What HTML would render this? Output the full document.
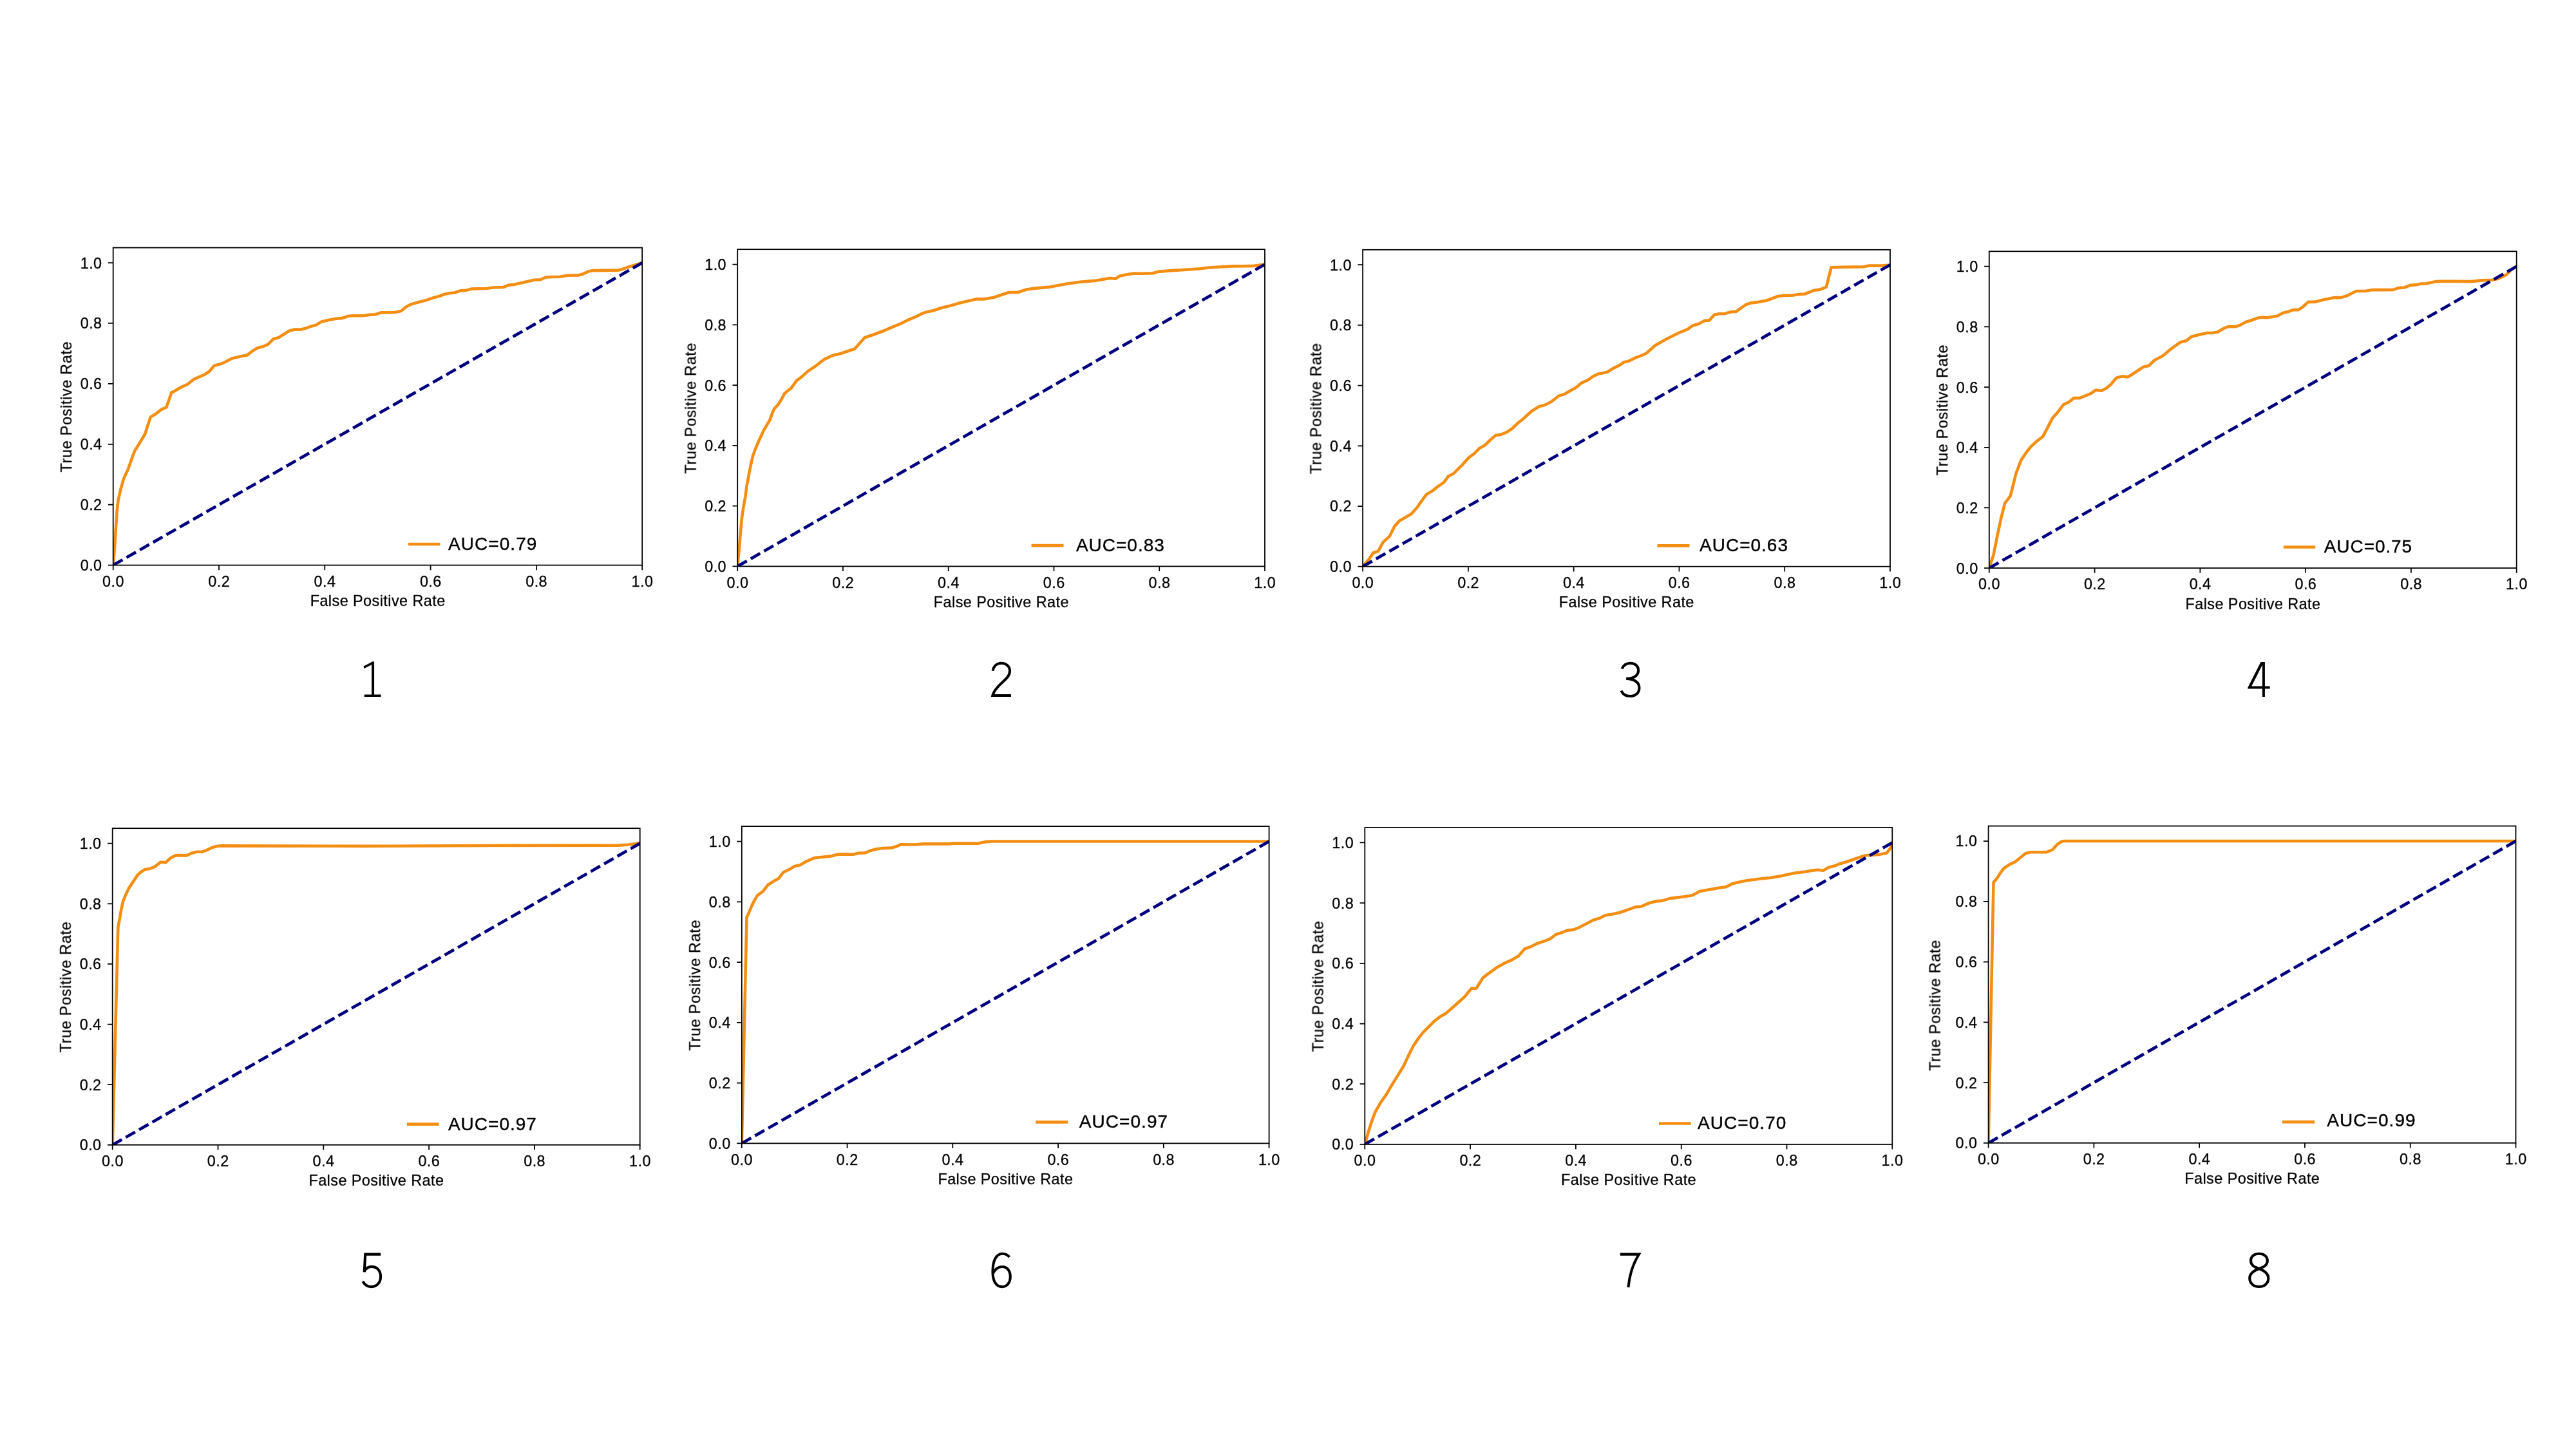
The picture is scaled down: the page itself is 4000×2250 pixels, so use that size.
<!DOCTYPE html>
<html><head><meta charset="utf-8"><title>ROC curves</title>
<style>html,body{margin:0;padding:0;background:#fff;}body{width:4000px;height:2250px;overflow:hidden;font-family:"Liberation Sans",sans-serif;}svg{display:block;}</style></head>
<body>
<svg width="4000" height="2250" viewBox="0 0 4000 2250">
<rect width="4000" height="2250" fill="#fff"/>
<g id="p1">
<clipPath id="c1"><rect x="175.70" y="384.60" width="821.50" height="493.00"/></clipPath>
<g clip-path="url(#c1)" fill="none">
<path d="M175.8 877.6 L177.8 852.3 L179.7 823.2 L181.6 794.1 L183.6 776.6 L187.5 759.2 L192.3 742.7 L199.1 728.1 L204.9 711.6 L208.8 700.9 L216.6 688.3 L225.3 673.8 L230.2 658.2 L233.7 647.6 L241.8 642.7 L250.6 635.9 L258.3 632.4 L262.2 621.4 L266.5 609.1 L267.1 609.6 L283.0 600.3 L290.8 597.0 L300.5 589.2 L317.9 581.5 L324.7 577.0 L332.5 567.9 L343.2 565.0 L350.9 561.5 L359.7 556.8 L374.2 553.3 L383.9 551.4 L391.7 545.2 L400.4 540.1 L408.2 538.2 L416.0 534.9 L424.7 526.2 L432.5 524.2 L441.2 518.8 L449.9 513.5 L457.7 511.6 L467.4 511.6 L475.2 509.7 L483.9 506.4 L490.7 504.8 L499.4 499.4 L510.1 497.0 L521.7 494.7 L531.4 494.1 L541.1 490.8 L548.9 490.3 L563.5 490.3 L573.2 488.9 L582.9 488.3 L591.6 485.4 L613.0 485.0 L622.7 483.1 L630.9 476.3 L638.6 472.4 L648.0 469.8 L660.4 466.6 L672.8 462.3 L682.1 460.0 L689.9 456.9 L697.6 455.3 L706.2 454.5 L714.7 451.4 L724.0 450.7 L731.8 448.6 L742.7 448.3 L755.1 448.0 L766.0 446.5 L781.5 446.0 L789.3 442.9 L798.6 441.8 L814.1 438.2 L828.9 434.7 L838.9 434.3 L847.5 430.5 L857.6 430.0 L870.0 429.7 L880.9 427.8 L898.0 427.4 L904.2 425.8 L913.5 421.6 L921.2 420.1 L960.1 419.6 L963.9 418.8 L977.1 414.2 L997.6 408.0" stroke="#f38e12" stroke-width="4.6" stroke-linejoin="round" stroke-linecap="square"/>
<path d="M175.70 877.60 L997.20 408.08" stroke="#00007f" stroke-width="4.7" stroke-dasharray="16.853 6.982"/>
</g>
<rect x="175.70" y="384.60" width="821.50" height="493.00" fill="none" stroke="#000" stroke-width="1.8"/>
<path d="M175.70 877.60 v7.7 M175.70 877.60 h-7.7 M340.00 877.60 v7.7 M175.70 783.70 h-7.7 M504.30 877.60 v7.7 M175.70 689.79 h-7.7 M668.60 877.60 v7.7 M175.70 595.89 h-7.7 M832.90 877.60 v7.7 M175.70 501.98 h-7.7 M997.20 877.60 v7.7 M175.70 408.08 h-7.7" stroke="#000" stroke-width="1.75" fill="none"/>
<g font-family="Liberation Sans, sans-serif" font-size="23.4" fill="#000" stroke="#000" stroke-width="0.3" opacity="0.999">
<text x="175.70" y="910.70" text-anchor="middle" textLength="33.4" lengthAdjust="spacing">0.0</text>
<text x="158.10" y="886.05" text-anchor="end" textLength="33.4" lengthAdjust="spacing">0.0</text>
<text x="340.00" y="910.70" text-anchor="middle" textLength="33.4" lengthAdjust="spacing">0.2</text>
<text x="158.10" y="792.15" text-anchor="end" textLength="33.4" lengthAdjust="spacing">0.2</text>
<text x="504.30" y="910.70" text-anchor="middle" textLength="33.4" lengthAdjust="spacing">0.4</text>
<text x="158.10" y="698.24" text-anchor="end" textLength="33.4" lengthAdjust="spacing">0.4</text>
<text x="668.60" y="910.70" text-anchor="middle" textLength="33.4" lengthAdjust="spacing">0.6</text>
<text x="158.10" y="604.34" text-anchor="end" textLength="33.4" lengthAdjust="spacing">0.6</text>
<text x="832.90" y="910.70" text-anchor="middle" textLength="33.4" lengthAdjust="spacing">0.8</text>
<text x="158.10" y="510.43" text-anchor="end" textLength="33.4" lengthAdjust="spacing">0.8</text>
<text x="997.20" y="910.70" text-anchor="middle" textLength="33.4" lengthAdjust="spacing">1.0</text>
<text x="158.10" y="416.53" text-anchor="end" textLength="33.4" lengthAdjust="spacing">1.0</text>
<text font-size="23.4" x="586.45" y="941.10" text-anchor="middle" textLength="209.6" lengthAdjust="spacing">False Positive Rate</text>
<text font-size="23.4" transform="translate(111.10 631.90) rotate(-90)" text-anchor="middle" textLength="203" lengthAdjust="spacing">True Positive Rate</text>
</g>
<path d="M634.00 845.00 H683.50" stroke="#f38e12" stroke-width="4.7" fill="none"/>
<text font-family="Liberation Sans, sans-serif" font-size="28.0" stroke="#000" stroke-width="0.4" opacity="0.999" x="695.90" y="853.80" textLength="137.5" lengthAdjust="spacing">AUC=0.79</text>
</g>
<g id="p2">
<clipPath id="c2"><rect x="1145.20" y="387.20" width="818.80" height="492.20"/></clipPath>
<g clip-path="url(#c2)" fill="none">
<path d="M1145.2 879.1 L1147.8 852.3 L1149.7 829.0 L1152.0 803.8 L1154.6 786.3 L1157.5 770.8 L1159.4 755.3 L1162.3 739.8 L1166.2 720.3 L1169.1 707.7 L1173.0 697.0 L1178.8 683.5 L1185.6 668.9 L1195.3 652.4 L1199.2 641.7 L1202.1 634.9 L1207.9 628.7 L1213.8 619.4 L1218.6 610.7 L1225.4 604.9 L1228.1 603.4 L1236.9 591.2 L1244.6 585.4 L1254.3 576.6 L1267.9 567.3 L1279.6 558.2 L1293.2 551.8 L1302.9 549.8 L1316.5 545.2 L1327.1 541.7 L1342.7 524.2 L1355.3 520.0 L1372.7 513.5 L1384.4 508.3 L1398.0 502.9 L1409.6 497.0 L1421.3 492.2 L1432.9 486.4 L1440.7 483.9 L1448.4 482.5 L1462.0 478.0 L1475.6 474.7 L1489.2 470.8 L1502.8 467.5 L1516.4 464.4 L1528.0 464.4 L1543.6 461.7 L1555.2 457.8 L1566.8 454.0 L1580.4 454.0 L1594.0 449.5 L1607.6 447.6 L1630.9 445.6 L1656.1 440.8 L1677.5 437.8 L1700.0 435.9 L1714.2 433.6 L1723.5 432.0 L1732.1 432.8 L1739.1 428.4 L1748.4 426.6 L1759.3 424.7 L1773.2 424.7 L1790.3 424.3 L1798.1 421.9 L1819.8 420.1 L1846.2 418.5 L1863.3 417.3 L1872.6 416.0 L1892.8 414.5 L1913.0 413.4 L1931.6 413.2 L1947.1 412.9 L1963.9 410.7" stroke="#f38e12" stroke-width="4.6" stroke-linejoin="round" stroke-linecap="square"/>
<path d="M1145.20 879.40 L1964.00 410.64" stroke="#00007f" stroke-width="4.7" stroke-dasharray="16.798 6.959"/>
</g>
<rect x="1145.20" y="387.20" width="818.80" height="492.20" fill="none" stroke="#000" stroke-width="1.8"/>
<path d="M1145.20 879.40 v7.7 M1145.20 879.40 h-7.7 M1308.96 879.40 v7.7 M1145.20 785.65 h-7.7 M1472.72 879.40 v7.7 M1145.20 691.90 h-7.7 M1636.48 879.40 v7.7 M1145.20 598.14 h-7.7 M1800.24 879.40 v7.7 M1145.20 504.39 h-7.7 M1964.00 879.40 v7.7 M1145.20 410.64 h-7.7" stroke="#000" stroke-width="1.75" fill="none"/>
<g font-family="Liberation Sans, sans-serif" font-size="23.4" fill="#000" stroke="#000" stroke-width="0.3" opacity="0.999">
<text x="1145.20" y="912.50" text-anchor="middle" textLength="33.4" lengthAdjust="spacing">0.0</text>
<text x="1127.60" y="887.85" text-anchor="end" textLength="33.4" lengthAdjust="spacing">0.0</text>
<text x="1308.96" y="912.50" text-anchor="middle" textLength="33.4" lengthAdjust="spacing">0.2</text>
<text x="1127.60" y="794.10" text-anchor="end" textLength="33.4" lengthAdjust="spacing">0.2</text>
<text x="1472.72" y="912.50" text-anchor="middle" textLength="33.4" lengthAdjust="spacing">0.4</text>
<text x="1127.60" y="700.35" text-anchor="end" textLength="33.4" lengthAdjust="spacing">0.4</text>
<text x="1636.48" y="912.50" text-anchor="middle" textLength="33.4" lengthAdjust="spacing">0.6</text>
<text x="1127.60" y="606.59" text-anchor="end" textLength="33.4" lengthAdjust="spacing">0.6</text>
<text x="1800.24" y="912.50" text-anchor="middle" textLength="33.4" lengthAdjust="spacing">0.8</text>
<text x="1127.60" y="512.84" text-anchor="end" textLength="33.4" lengthAdjust="spacing">0.8</text>
<text x="1964.00" y="912.50" text-anchor="middle" textLength="33.4" lengthAdjust="spacing">1.0</text>
<text x="1127.60" y="419.09" text-anchor="end" textLength="33.4" lengthAdjust="spacing">1.0</text>
<text font-size="23.4" x="1554.60" y="942.90" text-anchor="middle" textLength="209.6" lengthAdjust="spacing">False Positive Rate</text>
<text font-size="23.4" transform="translate(1080.60 634.10) rotate(-90)" text-anchor="middle" textLength="203" lengthAdjust="spacing">True Positive Rate</text>
</g>
<path d="M1601.60 847.05 H1651.50" stroke="#f38e12" stroke-width="4.7" fill="none"/>
<text font-family="Liberation Sans, sans-serif" font-size="28.0" stroke="#000" stroke-width="0.4" opacity="0.999" x="1670.90" y="855.70" textLength="136.9" lengthAdjust="spacing">AUC=0.83</text>
</g>
<g id="p3">
<clipPath id="c3"><rect x="2116.10" y="387.80" width="818.90" height="491.90"/></clipPath>
<g clip-path="url(#c3)" fill="none">
<path d="M2116.0 879.5 L2125.5 868.8 L2132.3 858.5 L2140.1 855.8 L2147.8 841.7 L2157.6 832.9 L2165.3 817.4 L2173.1 808.7 L2181.8 803.8 L2191.5 798.0 L2200.3 788.3 L2207.0 778.6 L2214.8 767.9 L2224.5 762.1 L2234.2 754.3 L2242.0 749.1 L2248.8 739.8 L2257.5 734.9 L2271.1 721.3 L2280.8 710.6 L2288.6 704.8 L2297.3 696.1 L2306.0 691.2 L2314.8 682.5 L2322.5 676.1 L2331.3 674.7 L2340.0 670.8 L2348.7 665.0 L2356.5 657.3 L2366.2 649.5 L2377.9 638.8 L2389.5 631.4 L2399.2 628.7 L2408.9 623.7 L2420.6 614.6 L2429.3 612.0 L2440.0 605.8 L2447.7 601.6 L2455.4 594.8 L2465.2 590.4 L2473.9 584.3 L2481.5 580.7 L2495.7 577.8 L2505.4 571.7 L2514.1 567.6 L2521.7 562.2 L2528.3 561.1 L2539.1 555.7 L2550.0 551.7 L2556.5 548.5 L2570.7 536.1 L2589.1 525.7 L2606.5 517.0 L2620.7 511.1 L2628.3 505.7 L2638.0 502.8 L2646.7 498.0 L2654.3 497.4 L2662.0 488.7 L2669.6 487.2 L2678.3 487.0 L2688.0 484.3 L2695.7 483.9 L2710.9 473.0 L2719.6 470.2 L2730.4 469.1 L2743.5 466.5 L2760.9 460.0 L2769.6 458.9 L2782.6 458.7 L2791.3 457.2 L2802.2 456.5 L2817.4 450.7 L2826.1 449.6 L2835.9 445.7 L2843.5 415.2 L2860.9 414.8 L2893.5 414.3 L2902.2 412.6 L2921.7 412.6 L2935.2 411.5" stroke="#f38e12" stroke-width="4.6" stroke-linejoin="round" stroke-linecap="square"/>
<path d="M2116.10 879.70 L2935.00 411.22" stroke="#00007f" stroke-width="4.7" stroke-dasharray="16.800 6.960"/>
</g>
<rect x="2116.10" y="387.80" width="818.90" height="491.90" fill="none" stroke="#000" stroke-width="1.8"/>
<path d="M2116.10 879.70 v7.7 M2116.10 879.70 h-7.7 M2279.88 879.70 v7.7 M2116.10 786.00 h-7.7 M2443.66 879.70 v7.7 M2116.10 692.31 h-7.7 M2607.44 879.70 v7.7 M2116.10 598.61 h-7.7 M2771.22 879.70 v7.7 M2116.10 504.92 h-7.7 M2935.00 879.70 v7.7 M2116.10 411.22 h-7.7" stroke="#000" stroke-width="1.75" fill="none"/>
<g font-family="Liberation Sans, sans-serif" font-size="23.4" fill="#000" stroke="#000" stroke-width="0.3" opacity="0.999">
<text x="2116.10" y="912.80" text-anchor="middle" textLength="33.4" lengthAdjust="spacing">0.0</text>
<text x="2098.50" y="888.15" text-anchor="end" textLength="33.4" lengthAdjust="spacing">0.0</text>
<text x="2279.88" y="912.80" text-anchor="middle" textLength="33.4" lengthAdjust="spacing">0.2</text>
<text x="2098.50" y="794.45" text-anchor="end" textLength="33.4" lengthAdjust="spacing">0.2</text>
<text x="2443.66" y="912.80" text-anchor="middle" textLength="33.4" lengthAdjust="spacing">0.4</text>
<text x="2098.50" y="700.76" text-anchor="end" textLength="33.4" lengthAdjust="spacing">0.4</text>
<text x="2607.44" y="912.80" text-anchor="middle" textLength="33.4" lengthAdjust="spacing">0.6</text>
<text x="2098.50" y="607.06" text-anchor="end" textLength="33.4" lengthAdjust="spacing">0.6</text>
<text x="2771.22" y="912.80" text-anchor="middle" textLength="33.4" lengthAdjust="spacing">0.8</text>
<text x="2098.50" y="513.37" text-anchor="end" textLength="33.4" lengthAdjust="spacing">0.8</text>
<text x="2935.00" y="912.80" text-anchor="middle" textLength="33.4" lengthAdjust="spacing">1.0</text>
<text x="2098.50" y="419.67" text-anchor="end" textLength="33.4" lengthAdjust="spacing">1.0</text>
<text font-size="23.4" x="2525.55" y="943.20" text-anchor="middle" textLength="209.6" lengthAdjust="spacing">False Positive Rate</text>
<text font-size="23.4" transform="translate(2051.50 634.55) rotate(-90)" text-anchor="middle" textLength="203" lengthAdjust="spacing">True Positive Rate</text>
</g>
<path d="M2573.50 847.30 H2623.50" stroke="#f38e12" stroke-width="4.7" fill="none"/>
<text font-family="Liberation Sans, sans-serif" font-size="28.0" stroke="#000" stroke-width="0.4" opacity="0.999" x="2639.00" y="855.70" textLength="137.0" lengthAdjust="spacing">AUC=0.63</text>
</g>
<g id="p4">
<clipPath id="c4"><rect x="3088.80" y="390.30" width="818.90" height="491.80"/></clipPath>
<g clip-path="url(#c4)" fill="none">
<path d="M3088.8 882.1 L3095.6 861.2 L3101.4 832.0 L3107.2 804.9 L3113.1 781.6 L3121.8 769.9 L3125.7 754.4 L3130.5 735.0 L3138.3 714.6 L3146.1 703.0 L3153.8 693.3 L3163.5 684.5 L3172.3 677.7 L3179.0 665.1 L3186.8 649.6 L3194.6 640.8 L3204.3 628.2 L3212.0 624.7 L3220.2 618.1 L3229.5 618.1 L3247.0 610.8 L3254.3 605.7 L3263.1 606.7 L3270.8 602.8 L3277.6 597.0 L3286.4 586.7 L3295.1 584.4 L3303.8 585.4 L3310.6 581.5 L3328.1 569.8 L3336.8 567.9 L3345.6 559.2 L3355.3 554.3 L3361.1 550.4 L3368.9 543.6 L3376.6 537.8 L3385.4 531.6 L3395.1 529.1 L3402.8 522.7 L3413.5 520.0 L3427.1 517.0 L3435.8 517.0 L3443.6 515.5 L3452.3 510.2 L3460.1 507.1 L3471.7 507.1 L3477.6 505.2 L3487.3 500.0 L3497.0 497.0 L3504.7 494.1 L3512.5 492.8 L3520.3 493.2 L3535.8 490.8 L3545.5 485.8 L3553.3 483.9 L3561.0 481.1 L3568.8 481.1 L3575.6 476.7 L3584.3 468.9 L3594.0 468.9 L3607.6 465.6 L3625.1 462.1 L3634.8 462.1 L3644.5 459.2 L3652.3 455.3 L3659.0 452.0 L3673.6 452.0 L3683.3 450.1 L3700.0 450.1 L3716.3 449.9 L3724.1 447.1 L3733.4 446.5 L3742.7 442.9 L3750.5 442.4 L3759.8 440.6 L3767.6 440.2 L3783.1 437.1 L3790.9 436.7 L3839.0 437.1 L3849.9 435.6 L3860.7 435.1 L3870.1 434.7 L3879.4 432.8 L3891.8 426.6 L3899.6 418.8 L3908.1 412.9" stroke="#f38e12" stroke-width="4.6" stroke-linejoin="round" stroke-linecap="square"/>
<path d="M3088.80 882.10 L3907.70 413.72" stroke="#00007f" stroke-width="4.7" stroke-dasharray="16.800 6.960"/>
</g>
<rect x="3088.80" y="390.30" width="818.90" height="491.80" fill="none" stroke="#000" stroke-width="1.8"/>
<path d="M3088.80 882.10 v7.7 M3088.80 882.10 h-7.7 M3252.58 882.10 v7.7 M3088.80 788.42 h-7.7 M3416.36 882.10 v7.7 M3088.80 694.75 h-7.7 M3580.14 882.10 v7.7 M3088.80 601.07 h-7.7 M3743.92 882.10 v7.7 M3088.80 507.40 h-7.7 M3907.70 882.10 v7.7 M3088.80 413.72 h-7.7" stroke="#000" stroke-width="1.75" fill="none"/>
<g font-family="Liberation Sans, sans-serif" font-size="23.4" fill="#000" stroke="#000" stroke-width="0.3" opacity="0.999">
<text x="3088.80" y="915.20" text-anchor="middle" textLength="33.4" lengthAdjust="spacing">0.0</text>
<text x="3071.20" y="890.55" text-anchor="end" textLength="33.4" lengthAdjust="spacing">0.0</text>
<text x="3252.58" y="915.20" text-anchor="middle" textLength="33.4" lengthAdjust="spacing">0.2</text>
<text x="3071.20" y="796.87" text-anchor="end" textLength="33.4" lengthAdjust="spacing">0.2</text>
<text x="3416.36" y="915.20" text-anchor="middle" textLength="33.4" lengthAdjust="spacing">0.4</text>
<text x="3071.20" y="703.20" text-anchor="end" textLength="33.4" lengthAdjust="spacing">0.4</text>
<text x="3580.14" y="915.20" text-anchor="middle" textLength="33.4" lengthAdjust="spacing">0.6</text>
<text x="3071.20" y="609.52" text-anchor="end" textLength="33.4" lengthAdjust="spacing">0.6</text>
<text x="3743.92" y="915.20" text-anchor="middle" textLength="33.4" lengthAdjust="spacing">0.8</text>
<text x="3071.20" y="515.85" text-anchor="end" textLength="33.4" lengthAdjust="spacing">0.8</text>
<text x="3907.70" y="915.20" text-anchor="middle" textLength="33.4" lengthAdjust="spacing">1.0</text>
<text x="3071.20" y="422.17" text-anchor="end" textLength="33.4" lengthAdjust="spacing">1.0</text>
<text font-size="23.4" x="3498.25" y="945.60" text-anchor="middle" textLength="209.6" lengthAdjust="spacing">False Positive Rate</text>
<text font-size="23.4" transform="translate(3024.20 637.00) rotate(-90)" text-anchor="middle" textLength="203" lengthAdjust="spacing">True Positive Rate</text>
</g>
<path d="M3545.80 849.50 H3595.20" stroke="#f38e12" stroke-width="4.7" fill="none"/>
<text font-family="Liberation Sans, sans-serif" font-size="28.0" stroke="#000" stroke-width="0.4" opacity="0.999" x="3608.70" y="857.80" textLength="136.5" lengthAdjust="spacing">AUC=0.75</text>
</g>
<g id="p5">
<clipPath id="c5"><rect x="174.70" y="1286.20" width="819.00" height="491.60"/></clipPath>
<g clip-path="url(#c5)" fill="none">
<path d="M174.7 1777.7 L183.3 1439.9 L186.0 1426.0 L188.3 1412.0 L191.1 1399.6 L194.5 1391.0 L199.9 1379.4 L206.1 1370.1 L213.9 1358.4 L218.6 1354.2 L224.8 1350.2 L231.8 1349.1 L240.3 1346.0 L245.0 1342.1 L249.6 1338.7 L257.4 1339.3 L265.2 1332.0 L272.9 1328.4 L279.9 1328.1 L290.0 1328.4 L297.0 1325.0 L304.8 1322.7 L314.1 1322.7 L320.3 1320.4 L329.6 1316.0 L335.8 1314.2 L342.0 1313.4 L565.0 1313.9 L610.0 1313.7 L796.3 1312.9 L959.4 1312.6 L974.9 1311.8 L985.8 1310.3 L993.9 1309.0" stroke="#f38e12" stroke-width="4.6" stroke-linejoin="round" stroke-linecap="square"/>
<path d="M174.70 1777.80 L993.70 1309.61" stroke="#00007f" stroke-width="4.7" stroke-dasharray="16.802 6.961"/>
</g>
<rect x="174.70" y="1286.20" width="819.00" height="491.60" fill="none" stroke="#000" stroke-width="1.8"/>
<path d="M174.70 1777.80 v7.7 M174.70 1777.80 h-7.7 M338.50 1777.80 v7.7 M174.70 1684.16 h-7.7 M502.30 1777.80 v7.7 M174.70 1590.52 h-7.7 M666.10 1777.80 v7.7 M174.70 1496.89 h-7.7 M829.90 1777.80 v7.7 M174.70 1403.25 h-7.7 M993.70 1777.80 v7.7 M174.70 1309.61 h-7.7" stroke="#000" stroke-width="1.75" fill="none"/>
<g font-family="Liberation Sans, sans-serif" font-size="23.4" fill="#000" stroke="#000" stroke-width="0.3" opacity="0.999">
<text x="174.70" y="1810.90" text-anchor="middle" textLength="33.4" lengthAdjust="spacing">0.0</text>
<text x="157.10" y="1786.25" text-anchor="end" textLength="33.4" lengthAdjust="spacing">0.0</text>
<text x="338.50" y="1810.90" text-anchor="middle" textLength="33.4" lengthAdjust="spacing">0.2</text>
<text x="157.10" y="1692.61" text-anchor="end" textLength="33.4" lengthAdjust="spacing">0.2</text>
<text x="502.30" y="1810.90" text-anchor="middle" textLength="33.4" lengthAdjust="spacing">0.4</text>
<text x="157.10" y="1598.97" text-anchor="end" textLength="33.4" lengthAdjust="spacing">0.4</text>
<text x="666.10" y="1810.90" text-anchor="middle" textLength="33.4" lengthAdjust="spacing">0.6</text>
<text x="157.10" y="1505.34" text-anchor="end" textLength="33.4" lengthAdjust="spacing">0.6</text>
<text x="829.90" y="1810.90" text-anchor="middle" textLength="33.4" lengthAdjust="spacing">0.8</text>
<text x="157.10" y="1411.70" text-anchor="end" textLength="33.4" lengthAdjust="spacing">0.8</text>
<text x="993.70" y="1810.90" text-anchor="middle" textLength="33.4" lengthAdjust="spacing">1.0</text>
<text x="157.10" y="1318.06" text-anchor="end" textLength="33.4" lengthAdjust="spacing">1.0</text>
<text font-size="23.4" x="584.20" y="1841.30" text-anchor="middle" textLength="209.6" lengthAdjust="spacing">False Positive Rate</text>
<text font-size="23.4" transform="translate(110.10 1532.80) rotate(-90)" text-anchor="middle" textLength="203" lengthAdjust="spacing">True Positive Rate</text>
</g>
<path d="M631.90 1745.65 H681.50" stroke="#f38e12" stroke-width="4.7" fill="none"/>
<text font-family="Liberation Sans, sans-serif" font-size="28.0" stroke="#000" stroke-width="0.4" opacity="0.999" x="695.90" y="1754.50" textLength="137.0" lengthAdjust="spacing">AUC=0.97</text>
</g>
<g id="p6">
<clipPath id="c6"><rect x="1151.80" y="1283.10" width="818.80" height="492.30"/></clipPath>
<g clip-path="url(#c6)" fill="none">
<path d="M1151.8 1775.4 L1159.5 1424.5 L1163.7 1415.2 L1167.6 1405.9 L1172.3 1396.6 L1176.2 1390.4 L1184.7 1384.1 L1192.5 1374.0 L1201.0 1368.6 L1208.8 1364.3 L1216.5 1354.3 L1225.9 1350.0 L1233.6 1345.3 L1242.9 1343.0 L1252.2 1337.6 L1264.7 1332.1 L1272.4 1331.3 L1284.9 1330.1 L1292.6 1329.0 L1300.4 1326.7 L1308.1 1326.4 L1325.2 1326.7 L1333.0 1324.8 L1343.1 1324.4 L1351.6 1320.8 L1360.9 1318.6 L1370.3 1317.1 L1384.2 1316.6 L1392.0 1314.3 L1399.0 1311.2 L1421.5 1311.5 L1433.9 1310.4 L1472.7 1310.4 L1480.5 1309.6 L1517.8 1309.6 L1517.5 1310.0 L1531.1 1307.1 L1538.8 1306.5 L1970.7 1306.5" stroke="#f38e12" stroke-width="4.6" stroke-linejoin="round" stroke-linecap="square"/>
<path d="M1151.80 1775.40 L1970.60 1306.54" stroke="#00007f" stroke-width="4.7" stroke-dasharray="16.798 6.959"/>
</g>
<rect x="1151.80" y="1283.10" width="818.80" height="492.30" fill="none" stroke="#000" stroke-width="1.8"/>
<path d="M1151.80 1775.40 v7.7 M1151.80 1775.40 h-7.7 M1315.56 1775.40 v7.7 M1151.80 1681.63 h-7.7 M1479.32 1775.40 v7.7 M1151.80 1587.86 h-7.7 M1643.08 1775.40 v7.7 M1151.80 1494.09 h-7.7 M1806.84 1775.40 v7.7 M1151.80 1400.31 h-7.7 M1970.60 1775.40 v7.7 M1151.80 1306.54 h-7.7" stroke="#000" stroke-width="1.75" fill="none"/>
<g font-family="Liberation Sans, sans-serif" font-size="23.4" fill="#000" stroke="#000" stroke-width="0.3" opacity="0.999">
<text x="1151.80" y="1808.50" text-anchor="middle" textLength="33.4" lengthAdjust="spacing">0.0</text>
<text x="1134.20" y="1783.85" text-anchor="end" textLength="33.4" lengthAdjust="spacing">0.0</text>
<text x="1315.56" y="1808.50" text-anchor="middle" textLength="33.4" lengthAdjust="spacing">0.2</text>
<text x="1134.20" y="1690.08" text-anchor="end" textLength="33.4" lengthAdjust="spacing">0.2</text>
<text x="1479.32" y="1808.50" text-anchor="middle" textLength="33.4" lengthAdjust="spacing">0.4</text>
<text x="1134.20" y="1596.31" text-anchor="end" textLength="33.4" lengthAdjust="spacing">0.4</text>
<text x="1643.08" y="1808.50" text-anchor="middle" textLength="33.4" lengthAdjust="spacing">0.6</text>
<text x="1134.20" y="1502.54" text-anchor="end" textLength="33.4" lengthAdjust="spacing">0.6</text>
<text x="1806.84" y="1808.50" text-anchor="middle" textLength="33.4" lengthAdjust="spacing">0.8</text>
<text x="1134.20" y="1408.76" text-anchor="end" textLength="33.4" lengthAdjust="spacing">0.8</text>
<text x="1970.60" y="1808.50" text-anchor="middle" textLength="33.4" lengthAdjust="spacing">1.0</text>
<text x="1134.20" y="1314.99" text-anchor="end" textLength="33.4" lengthAdjust="spacing">1.0</text>
<text font-size="23.4" x="1561.20" y="1838.90" text-anchor="middle" textLength="209.6" lengthAdjust="spacing">False Positive Rate</text>
<text font-size="23.4" transform="translate(1087.20 1530.05) rotate(-90)" text-anchor="middle" textLength="203" lengthAdjust="spacing">True Positive Rate</text>
</g>
<path d="M1608.20 1742.40 H1658.00" stroke="#f38e12" stroke-width="4.7" fill="none"/>
<text font-family="Liberation Sans, sans-serif" font-size="28.0" stroke="#000" stroke-width="0.4" opacity="0.999" x="1675.70" y="1750.80" textLength="137.4" lengthAdjust="spacing">AUC=0.97</text>
</g>
<g id="p7">
<clipPath id="c7"><rect x="2119.30" y="1285.00" width="819.00" height="491.90"/></clipPath>
<g clip-path="url(#c7)" fill="none">
<path d="M2119.4 1777.0 L2124.6 1758.2 L2129.5 1742.6 L2135.3 1727.1 L2144.1 1711.6 L2151.8 1700.9 L2161.5 1684.4 L2171.2 1668.9 L2179.0 1656.2 L2186.8 1639.8 L2194.5 1624.2 L2202.3 1612.6 L2210.0 1602.9 L2218.8 1594.1 L2227.5 1585.4 L2236.3 1578.6 L2245.0 1573.8 L2252.8 1567.0 L2262.5 1558.2 L2274.1 1548.1 L2279.9 1540.8 L2284.8 1534.9 L2292.5 1534.5 L2297.8 1526.1 L2302.6 1518.4 L2311.4 1511.6 L2324.9 1501.9 L2334.6 1496.4 L2346.3 1491.2 L2357.9 1484.4 L2367.6 1473.3 L2375.4 1470.8 L2387.0 1465.0 L2398.7 1461.1 L2406.5 1458.2 L2416.2 1451.0 L2425.9 1447.9 L2433.6 1444.6 L2443.3 1443.6 L2451.1 1440.7 L2474.4 1428.5 L2484.1 1425.8 L2492.8 1421.3 L2501.6 1420.0 L2515.2 1417.0 L2530.7 1411.6 L2540.4 1408.1 L2548.2 1407.7 L2561.7 1401.9 L2571.4 1399.4 L2581.1 1398.6 L2592.8 1395.1 L2604.4 1393.6 L2616.1 1392.2 L2627.7 1390.3 L2633.6 1387.3 L2639.4 1384.0 L2656.1 1380.9 L2667.3 1379.1 L2678.5 1377.5 L2682.9 1375.9 L2689.1 1372.5 L2704.6 1368.8 L2714.5 1367.0 L2735.7 1364.2 L2749.3 1363.0 L2766.7 1360.1 L2775.4 1358.0 L2789.1 1355.2 L2801.5 1353.9 L2813.9 1351.8 L2822.6 1350.8 L2831.3 1351.8 L2838.8 1347.1 L2848.7 1344.6 L2856.1 1341.5 L2864.8 1339.0 L2876.0 1335.3 L2888.4 1330.9 L2897.1 1328.2 L2907.1 1327.8 L2919.5 1326.6 L2929.4 1324.7 L2934.4 1318.5 L2938.1 1311.7 L2938.5 1308.8" stroke="#f38e12" stroke-width="4.6" stroke-linejoin="round" stroke-linecap="square"/>
<path d="M2119.30 1776.90 L2938.30 1308.42" stroke="#00007f" stroke-width="4.7" stroke-dasharray="16.802 6.961"/>
</g>
<rect x="2119.30" y="1285.00" width="819.00" height="491.90" fill="none" stroke="#000" stroke-width="1.8"/>
<path d="M2119.30 1776.90 v7.7 M2119.30 1776.90 h-7.7 M2283.10 1776.90 v7.7 M2119.30 1683.20 h-7.7 M2446.90 1776.90 v7.7 M2119.30 1589.51 h-7.7 M2610.70 1776.90 v7.7 M2119.30 1495.81 h-7.7 M2774.50 1776.90 v7.7 M2119.30 1402.12 h-7.7 M2938.30 1776.90 v7.7 M2119.30 1308.42 h-7.7" stroke="#000" stroke-width="1.75" fill="none"/>
<g font-family="Liberation Sans, sans-serif" font-size="23.4" fill="#000" stroke="#000" stroke-width="0.3" opacity="0.999">
<text x="2119.30" y="1810.00" text-anchor="middle" textLength="33.4" lengthAdjust="spacing">0.0</text>
<text x="2101.70" y="1785.35" text-anchor="end" textLength="33.4" lengthAdjust="spacing">0.0</text>
<text x="2283.10" y="1810.00" text-anchor="middle" textLength="33.4" lengthAdjust="spacing">0.2</text>
<text x="2101.70" y="1691.65" text-anchor="end" textLength="33.4" lengthAdjust="spacing">0.2</text>
<text x="2446.90" y="1810.00" text-anchor="middle" textLength="33.4" lengthAdjust="spacing">0.4</text>
<text x="2101.70" y="1597.96" text-anchor="end" textLength="33.4" lengthAdjust="spacing">0.4</text>
<text x="2610.70" y="1810.00" text-anchor="middle" textLength="33.4" lengthAdjust="spacing">0.6</text>
<text x="2101.70" y="1504.26" text-anchor="end" textLength="33.4" lengthAdjust="spacing">0.6</text>
<text x="2774.50" y="1810.00" text-anchor="middle" textLength="33.4" lengthAdjust="spacing">0.8</text>
<text x="2101.70" y="1410.57" text-anchor="end" textLength="33.4" lengthAdjust="spacing">0.8</text>
<text x="2938.30" y="1810.00" text-anchor="middle" textLength="33.4" lengthAdjust="spacing">1.0</text>
<text x="2101.70" y="1316.87" text-anchor="end" textLength="33.4" lengthAdjust="spacing">1.0</text>
<text font-size="23.4" x="2528.80" y="1840.40" text-anchor="middle" textLength="209.6" lengthAdjust="spacing">False Positive Rate</text>
<text font-size="23.4" transform="translate(2054.70 1531.75) rotate(-90)" text-anchor="middle" textLength="203" lengthAdjust="spacing">True Positive Rate</text>
</g>
<path d="M2576.00 1744.50 H2625.70" stroke="#f38e12" stroke-width="4.7" fill="none"/>
<text font-family="Liberation Sans, sans-serif" font-size="28.0" stroke="#000" stroke-width="0.4" opacity="0.999" x="2635.90" y="1752.80" textLength="137.5" lengthAdjust="spacing">AUC=0.70</text>
</g>
<g id="p8">
<clipPath id="c8"><rect x="3087.60" y="1282.60" width="818.90" height="492.20"/></clipPath>
<g clip-path="url(#c8)" fill="none">
<path d="M3087.6 1774.9 L3095.5 1370.2 L3101.3 1363.2 L3106.7 1354.6 L3112.2 1347.7 L3120.7 1342.2 L3129.2 1338.3 L3137.8 1331.3 L3144.8 1325.4 L3152.5 1323.3 L3177.4 1323.3 L3186.7 1319.7 L3194.5 1311.2 L3200.7 1306.8 L3205.3 1306.0 L3478.0 1306.0 L3906.5 1306.0" stroke="#f38e12" stroke-width="4.6" stroke-linejoin="round" stroke-linecap="square"/>
<path d="M3087.60 1774.80 L3906.50 1306.04" stroke="#00007f" stroke-width="4.7" stroke-dasharray="16.800 6.960"/>
</g>
<rect x="3087.60" y="1282.60" width="818.90" height="492.20" fill="none" stroke="#000" stroke-width="1.8"/>
<path d="M3087.60 1774.80 v7.7 M3087.60 1774.80 h-7.7 M3251.38 1774.80 v7.7 M3087.60 1681.05 h-7.7 M3415.16 1774.80 v7.7 M3087.60 1587.30 h-7.7 M3578.94 1774.80 v7.7 M3087.60 1493.54 h-7.7 M3742.72 1774.80 v7.7 M3087.60 1399.79 h-7.7 M3906.50 1774.80 v7.7 M3087.60 1306.04 h-7.7" stroke="#000" stroke-width="1.75" fill="none"/>
<g font-family="Liberation Sans, sans-serif" font-size="23.4" fill="#000" stroke="#000" stroke-width="0.3" opacity="0.999">
<text x="3087.60" y="1807.90" text-anchor="middle" textLength="33.4" lengthAdjust="spacing">0.0</text>
<text x="3070.00" y="1783.25" text-anchor="end" textLength="33.4" lengthAdjust="spacing">0.0</text>
<text x="3251.38" y="1807.90" text-anchor="middle" textLength="33.4" lengthAdjust="spacing">0.2</text>
<text x="3070.00" y="1689.50" text-anchor="end" textLength="33.4" lengthAdjust="spacing">0.2</text>
<text x="3415.16" y="1807.90" text-anchor="middle" textLength="33.4" lengthAdjust="spacing">0.4</text>
<text x="3070.00" y="1595.75" text-anchor="end" textLength="33.4" lengthAdjust="spacing">0.4</text>
<text x="3578.94" y="1807.90" text-anchor="middle" textLength="33.4" lengthAdjust="spacing">0.6</text>
<text x="3070.00" y="1501.99" text-anchor="end" textLength="33.4" lengthAdjust="spacing">0.6</text>
<text x="3742.72" y="1807.90" text-anchor="middle" textLength="33.4" lengthAdjust="spacing">0.8</text>
<text x="3070.00" y="1408.24" text-anchor="end" textLength="33.4" lengthAdjust="spacing">0.8</text>
<text x="3906.50" y="1807.90" text-anchor="middle" textLength="33.4" lengthAdjust="spacing">1.0</text>
<text x="3070.00" y="1314.49" text-anchor="end" textLength="33.4" lengthAdjust="spacing">1.0</text>
<text font-size="23.4" x="3497.05" y="1838.30" text-anchor="middle" textLength="209.6" lengthAdjust="spacing">False Positive Rate</text>
<text font-size="23.4" transform="translate(3012.80 1561.40) rotate(-90)" text-anchor="middle" textLength="203" lengthAdjust="spacing">True Positive Rate</text>
</g>
<path d="M3544.00 1742.05 H3594.30" stroke="#f38e12" stroke-width="4.7" fill="none"/>
<text font-family="Liberation Sans, sans-serif" font-size="28.0" stroke="#000" stroke-width="0.4" opacity="0.999" x="3613.20" y="1748.85" textLength="137.4" lengthAdjust="spacing">AUC=0.99</text>
</g>
<g transform="translate(500 1000) scale(0.075901)" fill="none" stroke="#000" stroke-width="54" stroke-linejoin="miter" stroke-miterlimit="10">
<path d="M1068 360 L1068 1033 L1205 1033 L1205 1082 L866 1082 L866 1033 L1015 1033 L1015 424 C960 452 910 478 861 502 L852 455 C910 428 975 395 1030 360 Z" fill="#000" stroke="none" fill-rule="evenodd"/>
</g>
<g transform="translate(1480 1000) scale(0.075901)" fill="none" stroke="#000" stroke-width="54" stroke-linejoin="miter" stroke-miterlimit="10">
<path d="M812 550 C830 450 900 392 985 392 C1090 392 1160 460 1160 550 C1160 640 1100 700 1010 780 C900 880 830 960 808 1055 L1185 1055"/>
</g>
<g transform="translate(2450 1000) scale(0.075901)" fill="none" stroke="#000" stroke-width="54" stroke-linejoin="miter" stroke-miterlimit="10">
<path d="M903 508 C935 430 1000 392 1075 392 C1175 392 1240 455 1240 540 C1240 640 1150 708 990 710 C1160 712 1258 790 1258 895 C1258 1000 1180 1068 1070 1068 C985 1068 920 1030 888 955"/>
</g>
<g transform="translate(3430 1000) scale(0.075901)" fill="none" stroke="#000" stroke-width="54" stroke-linejoin="miter" stroke-miterlimit="10">
<path d="M1060 370 L1145 370 L1145 864 L1248 864 L1248 916 L1145 916 L1145 1082 L1093 1082 L1093 916 L795 916 L795 893 Z M1093 864 L1093 428 L873 864 Z" fill="#000" stroke="none" fill-rule="evenodd"/>
</g>
<g transform="translate(500 1915) scale(0.075901)" fill="none" stroke="#000" stroke-width="54" stroke-linejoin="miter" stroke-miterlimit="10">
<path d="M1200 430 L885 430 L866 795"/>
<path d="M866 775 C900 720 950 684 1015 684 C1130 684 1200 770 1200 885 C1200 1010 1120 1095 1010 1095 C930 1095 870 1050 835 983"/>
</g>
<g transform="translate(1480 1915) scale(0.075901)" fill="none" stroke="#000" stroke-width="54" stroke-linejoin="miter" stroke-miterlimit="10">
<path d="M1152 488 C1115 440 1065 418 1010 418 C880 418 810 560 810 790 C810 980 880 1095 1000 1095 C1105 1095 1170 1010 1170 890 C1170 770 1105 686 1005 686 C925 686 860 735 815 820"/>
</g>
<g transform="translate(2450 1915) scale(0.075901)" fill="none" stroke="#000" stroke-width="54" stroke-linejoin="miter" stroke-miterlimit="10">
<path d="M868 430 L1250 430 C1130 620 1060 830 1033 1107"/>
</g>
<g transform="translate(3430 1915) scale(0.075901)" fill="none" stroke="#000" stroke-width="54" stroke-linejoin="miter" stroke-miterlimit="10">
<path d="M1025 725 C1150 680 1197 640 1197 560 C1197 470 1120 418 1025 418 C930 418 857 470 857 560 C857 640 900 680 1025 725 C1170 780 1217 850 1217 920 C1217 1020 1140 1094 1025 1094 C910 1094 833 1020 833 920 C833 850 880 780 1025 725 Z"/>
</g>
</svg>
</body></html>
